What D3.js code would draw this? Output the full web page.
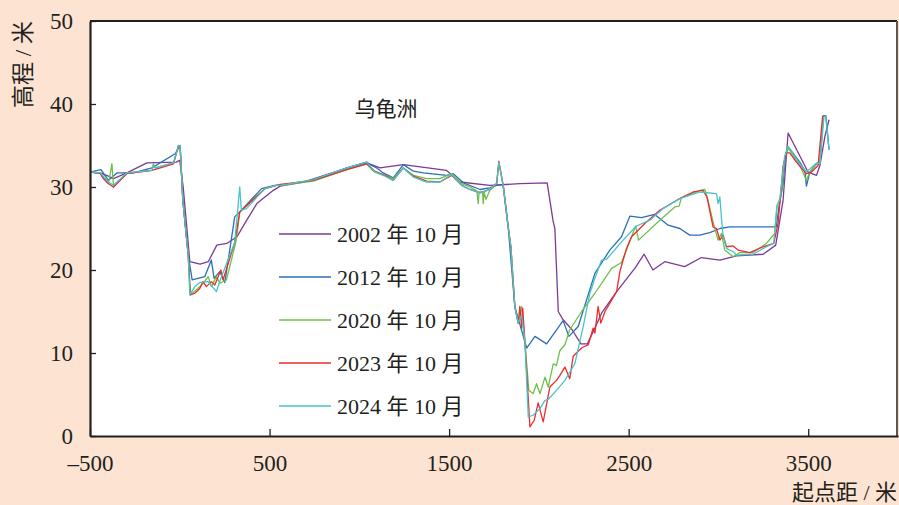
<!DOCTYPE html>
<html>
<head>
<meta charset="utf-8">
<script src="https://cdn.jsdelivr.net/npm/d3@7"></script>
<style>
  html, body { margin: 0; padding: 0; background: #fde4d2; }
  svg { display: block; }
</style>
</head>
<body>
<svg id="chart" width="899" height="505"></svg>
<script>
// Cross-section profiles of 乌龟洲: [起点距 (m), 高程 (m)]
const profile2002 = [
  [-500,31.8],[-443,31.7],[-397,31.3],[-369,31.0],[-295,31.7],[-183,32.9],[-20,33.0],[0,33.2],
  [19,30.0],[56,21.0],[113,20.7],[159,21.0],[206,23.0],[262,23.2],[318,24.0],[373,26.0],[429,28.0],
  [521,29.6],[559,30.1],[688,30.6],[948,32.4],[1041,32.9],[1115,32.3],[1245,32.7],[1486,32.0],
  [1560,30.6],[1727,30.2],[1894,30.4],[2046,30.5],[2080,25.8],[2089,25.0],[2108,15.0],[2135,14.0],
  [2185,12.8],[2234,11.1],[2270,11.1],[2312,13.0],[2349,14.8],[2433,17.4],[2534,20.2],[2586,21.9],
  [2635,20.0],[2701,21.0],[2812,20.4],[2905,21.5],[3008,21.2],[3100,21.7],[3249,21.9],[3319,23.0],
  [3360,28.4],[3388,36.5],[3499,31.8],[3546,31.4],[3565,32.6],[3593,36.1],[3616,38.1]
];
const profile2012 = [
  [-500,31.8],[-439,32.1],[-397,30.8],[-350,31.7],[-258,31.7],[-155,32.3],[-26,34.0],[2,35.0],
  [17,28.4],[47,21.8],[69,18.8],[139,19.2],[176,21.2],[191,19.0],[223,19.8],[251,18.5],[306,26.4],
  [334,27.0],[455,29.8],[529,30.2],[559,30.2],[744,30.8],[930,32.3],[1041,33.0],[1060,32.7],
  [1097,32.3],[1133,31.7],[1189,31.1],[1245,32.7],[1301,31.9],[1356,31.7],[1486,31.4],[1523,31.6],
  [1579,30.5],[1672,29.7],[1727,29.9],[1765,30.2],[1801,30.3],[1829,25.2],[1866,15.6],[1900,13.0],
  [1932,10.6],[1978,12.0],[2043,11.1],[2135,13.9],[2167,12.0],[2219,13.2],[2312,19.6],[2395,22.4],
  [2460,24.0],[2507,26.5],[2571,26.3],[2645,26.7],[2720,25.4],[2785,25.0],[2840,24.2],[2896,24.2],
  [2952,24.5],[3008,25.0],[3063,25.2],[3322,25.2],[3337,27.6],[3360,30.4],[3375,34.1],[3393,34.7],
  [3453,33.0],[3481,32.0],[3490,30.1],[3509,31.8],[3546,32.8],[3565,32.8],[3584,38.6],[3598,38.6],
  [3616,34.5]
];
const profile2020 = [
  [-500,31.8],[-443,31.7],[-425,31.2],[-397,30.4],[-378,32.8],[-369,30.0],[-295,31.7],[-155,32.0],
  [-147,32.8],[-137,32.3],[-35,32.9],[-7,35.0],[2,34.9],[17,28.4],[47,21.8],[59,17.0],[102,17.8],
  [130,18.4],[158,19.2],[176,18.0],[204,19.2],[223,18.4],[260,18.8],[315,23.6],[334,27.0],
  [474,29.8],[537,30.2],[559,30.2],[744,30.7],[930,32.1],[1041,32.8],[1078,31.9],[1143,31.4],
  [1189,31.0],[1245,32.3],[1301,31.4],[1375,31.0],[1449,31.0],[1514,31.6],[1570,30.4],[1616,30.0],
  [1655,29.5],[1662,28.0],[1667,29.4],[1686,29.4],[1690,28.0],[1695,29.4],[1705,28.5],[1727,29.6],
  [1765,30.4],[1777,33.0],[1801,30.2],[1829,25.2],[1844,22.8],[1866,15.6],[1885,13.6],[1904,15.6],
  [1922,11.4],[1944,5.5],[1968,5.1],[1987,6.3],[2006,5.1],[2034,7.1],[2052,5.9],[2080,8.7],
  [2098,8.5],[2117,10.3],[2145,11.0],[2172,12.8],[2238,15.0],[2312,17.2],[2368,19.0],[2405,20.2],
  [2460,20.9],[2488,22.4],[2539,25.3],[2555,23.6],[2654,25.6],[2757,27.6],[2781,27.7],[2794,28.7],
  [2896,29.6],[2924,29.7],[2942,28.4],[2970,25.8],[2998,23.6],[3017,24.4],[3035,22.4],[3082,21.6],
  [3119,22.1],[3193,22.1],[3267,23.2],[3313,24.4],[3326,27.6],[3351,29.2],[3369,33.4],[3388,34.7],
  [3453,32.6],[3490,30.8],[3509,31.8],[3546,32.8],[3565,33.0],[3584,38.5],[3598,38.5]
];
const profile2023 = [
  [-500,31.8],[-443,31.6],[-425,31.0],[-397,30.4],[-369,30.0],[-295,31.6],[-155,32.0],[-35,32.8],
  [-7,35.0],[2,34.8],[17,28.4],[47,21.8],[59,17.0],[84,17.2],[112,17.8],[130,18.6],[148,18.0],
  [176,18.6],[195,18.2],[229,20.0],[241,18.8],[306,23.3],[334,27.0],[474,29.8],[537,30.2],
  [559,30.3],[744,30.8],[930,32.1],[1041,32.8],[1087,31.9],[1143,31.4],[1189,30.8],[1245,32.3],
  [1301,31.3],[1375,30.7],[1449,30.6],[1514,31.4],[1570,30.2],[1616,29.7],[1672,29.3],[1727,29.7],
  [1765,30.4],[1777,33.1],[1801,30.2],[1829,25.2],[1844,22.8],[1866,15.6],[1885,13.6],[1894,15.6],
  [1904,13.0],[1910,15.4],[1922,11.4],[1950,1.1],[1974,1.9],[1996,4.0],[2024,1.7],[2061,5.9],
  [2098,6.7],[2117,7.3],[2145,8.3],[2172,6.9],[2191,9.6],[2238,10.6],[2275,11.0],[2302,13.0],
  [2312,12.4],[2330,15.6],[2345,13.6],[2368,15.0],[2433,17.4],[2451,19.8],[2469,21.2],[2488,22.6],
  [2516,24.0],[2544,24.6],[2590,25.6],[2673,27.2],[2775,28.5],[2859,29.4],[2914,29.6],[2936,28.8],
  [2955,26.8],[2970,25.2],[2989,25.0],[3008,23.6],[3026,24.2],[3045,22.8],[3082,22.9],[3109,22.4],
  [3174,22.1],[3249,22.8],[3308,23.2],[3332,25.6],[3360,32.5],[3378,34.1],[3397,34.1],[3434,33.0],
  [3490,31.6],[3518,31.8],[3555,32.6],[3580,38.5],[3598,38.5]
];
const profile2024 = [
  [-500,31.8],[-443,31.7],[-397,30.6],[-369,30.2],[-295,31.7],[-155,32.0],[-147,32.6],[-137,32.3],
  [-35,32.9],[-7,35.0],[2,34.9],[17,28.4],[47,21.8],[56,17.0],[84,18.0],[112,18.5],[158,18.6],
  [204,17.4],[232,19.2],[306,23.3],[334,30.0],[343,27.2],[371,27.4],[474,29.8],[537,30.2],
  [559,30.2],[744,30.9],[930,32.3],[1041,33.0],[1087,31.8],[1143,31.3],[1189,30.8],[1245,32.3],
  [1301,31.2],[1375,30.6],[1449,30.6],[1514,31.5],[1570,30.2],[1616,29.7],[1672,29.3],[1727,29.7],
  [1765,30.5],[1777,33.0],[1801,30.2],[1829,25.2],[1844,22.8],[1866,15.6],[1885,13.6],[1904,14.6],
  [1922,11.4],[1941,2.3],[1968,2.5],[2006,3.3],[2034,4.3],[2052,4.4],[2098,5.5],[2145,6.7],
  [2200,8.7],[2247,13.2],[2284,17.2],[2312,19.0],[2349,21.2],[2377,21.3],[2469,23.6],[2544,25.3],
  [2618,26.0],[2692,27.4],[2785,28.6],[2896,29.4],[2989,29.2],[2998,28.0],[3008,28.8],[3017,26.2],
  [3026,24.0],[3045,22.6],[3082,22.2],[3100,21.8],[3193,21.9],[3267,22.8],[3308,23.2],[3326,27.8],
  [3341,28.4],[3369,33.7],[3388,34.9],[3453,32.8],[3490,31.8],[3546,32.9],[3565,32.8],[3588,38.5],
  [3598,38.5],[3616,34.5]
];

const surveyLabels = ["2002 年 10 月", "2012 年 10 月", "2020 年 10 月", "2023 年 10 月", "2024 年 10 月"];
const surveyColors = ["#7d3a94", "#2b6fb6", "#6fc04a", "#ee2b2b", "#46c4c9"];
const xTicks = [-500, 500, 1500, 2500, 3500];
const yTicks = [0, 10, 20, 30, 40, 50];
const chartTitle = "乌龟洲";
const xTitle = "起点距 / 米";
const yTitle = "高程 / 米";

const profiles = [profile2002, profile2012, profile2020, profile2023, profile2024];

const svg = d3.select("#chart");
const W = 899, H = 505;
const plotLeft = 90, plotRight = 898, plotTop = 21, plotBottom = 436, frameRight = 897;

svg.append("rect").attr("width", W).attr("height", H).attr("fill", "#fde4d2");

const x = d3.scaleLinear().domain([-500, 4000]).range([plotLeft, plotRight]);
const y = d3.scaleLinear().domain([0, 50]).range([plotBottom, plotTop]);

// plotting area
svg.append("rect")
  .attr("x", plotLeft).attr("y", plotTop)
  .attr("width", frameRight - plotLeft).attr("height", plotBottom - plotTop)
  .attr("fill", "#ffffff");

const serif = "'Liberation Serif', 'Times New Roman', 'Noto Sans CJK SC', serif";
const cjk = "'Noto Sans CJK SC', 'Liberation Serif', sans-serif";

// profile lines
const line = d3.line().x(d => x(d[0])).y(d => y(d[1]));
svg.append("g").selectAll("path")
  .data(profiles)
  .join("path")
  .attr("d", line)
  .attr("fill", "none")
  .attr("stroke", (d, i) => surveyColors[i])
  .attr("stroke-width", 1.3)
  .attr("stroke-linejoin", "round");

// frame: top and right border
svg.append("line").attr("x1", plotLeft).attr("x2", frameRight).attr("y1", plotTop).attr("y2", plotTop)
  .attr("stroke", "#231f20").attr("stroke-width", 2);
svg.append("line").attr("x1", frameRight).attr("x2", frameRight).attr("y1", plotTop).attr("y2", plotBottom)
  .attr("stroke", "#5a5556").attr("stroke-width", 2);

// axes
const yAxis = svg.append("g")
  .attr("transform", `translate(${plotLeft},0)`)
  .call(d3.axisLeft(y).tickValues(yTicks).tickSize(-6).tickSizeOuter(0).tickPadding(17));
const xAxis = svg.append("g")
  .attr("transform", `translate(0,${plotBottom})`)
  .call(d3.axisBottom(x).tickValues(xTicks).tickSize(-7).tickSizeOuter(0).tickPadding(19)
    .tickFormat(d => d < 0 ? "\u2013" + Math.abs(d) : String(d)));

[yAxis, xAxis].forEach(g => {
  g.select(".domain").attr("stroke", "#231f20").attr("stroke-width", 2.2);
  g.selectAll(".tick line").attr("stroke", "#231f20").attr("stroke-width", 1.3);
  g.selectAll(".tick text")
    .attr("fill", "#231f20")
    .style("font-family", serif)
    .style("font-size", "23px");
});
yAxis.selectAll(".tick text").attr("dy", "0.34em");

// titles
svg.append("text")
  .attr("x", 386).attr("y", 116)
  .attr("text-anchor", "middle")
  .style("font-family", cjk).style("font-size", "21px")
  .attr("fill", "#231f20")
  .text(chartTitle);

svg.append("text")
  .attr("x", 897).attr("y", 500)
  .attr("text-anchor", "end")
  .style("font-family", serif).style("font-size", "22px")
  .attr("fill", "#231f20")
  .text(xTitle);

svg.append("text")
  .attr("transform", "translate(31,21) rotate(-90)")
  .attr("text-anchor", "end")
  .style("font-family", serif).style("font-size", "23px")
  .attr("fill", "#231f20")
  .text(yTitle);

// legend
const legend = svg.append("g");
const rowY = d3.scaleLinear().domain([0, 4]).range([234, 406]);
const items = legend.selectAll("g").data(surveyLabels).join("g")
  .attr("transform", (d, i) => `translate(0,${rowY(i)})`);
items.append("line")
  .attr("x1", 279).attr("x2", 331).attr("y1", 0).attr("y2", 0)
  .attr("stroke", (d, i) => surveyColors[i]).attr("stroke-width", 1.5);
items.append("text")
  .attr("x", 337).attr("y", 0).attr("dy", "0.35em")
  .style("font-family", serif).style("font-size", "22px")
  .attr("fill", "#231f20")
  .text(d => d);
</script>
</body>
</html>
